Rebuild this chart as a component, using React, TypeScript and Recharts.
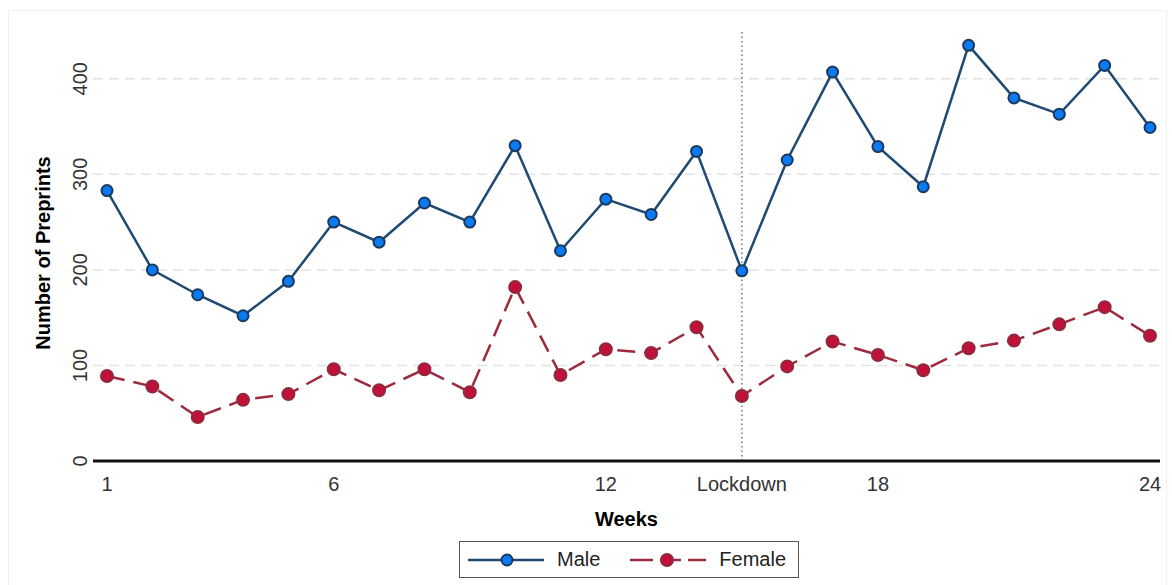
import { LineChart, Line, XAxis, YAxis, CartesianGrid, ReferenceLine } from "recharts";

const weeks = [1, 2, 3, 4, 5, 6, 7, 8, 9, 10, 11, 12, 13, 14, 15, 16, 17, 18, 19, 20, 21, 22, 23, 24];
const maleCounts = [283, 200, 174, 152, 188, 250, 229, 270, 250, 330, 220, 274, 258, 324, 199, 315, 407, 329, 287, 435, 380, 363, 414, 349];
const femaleCounts = [89, 78, 46, 64, 70, 96, 74, 96, 72, 182, 90, 117, 113, 140, 68, 99, 125, 111, 95, 118, 126, 143, 161, 131];
const xTicks = [1, 6, 12, 15, 18, 24];
const yTicks = [0, 100, 200, 300, 400];
const gridValues = [100, 200, 300, 400];
const lockdownWeek = 15;

const data = weeks.map((week, i) => ({ week, male: maleCounts[i], female: femaleCounts[i] }));

const FONT = "'Liberation Sans', Arial, sans-serif";
const MALE_LINE = "#1f4a72";
const MALE_FILL = "#0b7bf5";
const MALE_EDGE = "#1b3a5c";
const FEMALE_LINE = "#9c2b3d";
const FEMALE_FILL = "#c1103a";
const FEMALE_EDGE = "#8f2a3c";

const YTick = ({ x, y, payload }: any) => (
  <text
    x={x}
    y={y}
    transform={`rotate(-90, ${x}, ${y})`}
    textAnchor="middle"
    fontSize={20}
    fontFamily={FONT}
    fill="#333"
  >
    {payload.value}
  </text>
);

const xLabel = (v: number) => (v === lockdownWeek ? "Lockdown" : String(v));

export default function App() {
  return (
    <div style={{ position: "absolute", left: 0, top: 0, width: 1172, height: 585, background: "#fff", fontFamily: FONT }}>
      {/* faint plot region frame */}
      <div style={{ position: "absolute", left: 8, top: 10, width: 1157, height: 580, border: "1px solid #f0f0f0" }} />
      <LineChart width={1172} height={585} data={data} margin={{ top: 31, right: 12, left: 0, bottom: 54 }}>
        <CartesianGrid
          vertical={false}
          horizontalValues={gridValues}
          stroke="#e2e2e2"
          strokeDasharray="10 6"
          strokeWidth={1.5}
        />
        <XAxis
          dataKey="week"
          type="number"
          domain={[1, 24]}
          ticks={xTicks}
          tickFormatter={xLabel}
          padding={{ left: 14, right: 10 }}
          height={70}
          tickLine={false}
          tickSize={0}
          tickMargin={16}
          axisLine={{ stroke: "#111", strokeWidth: 3 }}
          tick={{ fontSize: 20, fill: "#333", fontFamily: FONT }}
          interval={0}
          label={{ value: "Weeks", position: "insideBottom", offset: 5, fontSize: 20, fontWeight: 700, fill: "#000", fontFamily: FONT }}
        />
        <YAxis
          type="number"
          domain={[0, 450]}
          ticks={yTicks}
          width={93}
          axisLine={false}
          tickLine={false}
          tickSize={0}
          tickMargin={6}
          tick={<YTick />}
          label={{
            content: () => (
              <text
                transform="translate(50,253) rotate(-90)"
                textAnchor="middle"
                fontSize={20}
                fontWeight={700}
                fontFamily={FONT}
                fill="#000"
              >
                Number of Preprints
              </text>
            ),
          }}
        />
        <ReferenceLine x={lockdownWeek} stroke="#777" strokeDasharray="1.5 3" strokeWidth={1.5} />
        <Line
          type="linear"
          dataKey="male"
          name="Male"
          stroke={MALE_LINE}
          strokeWidth={2.5}
          dot={{ r: 5.5, fill: MALE_FILL, stroke: MALE_EDGE, strokeWidth: 2, strokeDasharray: "0" }}
          activeDot={false}
          isAnimationActive={false}
        />
        <Line
          type="linear"
          dataKey="female"
          name="Female"
          stroke={FEMALE_LINE}
          strokeWidth={2.5}
          strokeDasharray="18 9"
          dot={{ r: 6, fill: FEMALE_FILL, stroke: FEMALE_EDGE, strokeWidth: 2, strokeDasharray: "0" }}
          activeDot={false}
          isAnimationActive={false}
        />
      </LineChart>
      {/* legend */}
      <div
        style={{
          position: "absolute",
          left: 459,
          top: 541,
          width: 338,
          height: 35,
          border: "1px solid #555",
          display: "flex",
          alignItems: "center",
          fontSize: 20,
          color: "#222",
        }}
      >
        <svg width={76} height={20} style={{ marginLeft: 8 }}>
          <line x1={0} y1={10} x2={76} y2={10} stroke={MALE_LINE} strokeWidth={2.5} />
          <circle cx={39} cy={10} r={5.5} fill={MALE_FILL} stroke={MALE_EDGE} strokeWidth={2} />
        </svg>
        <span style={{ marginLeft: 13 }}>Male</span>
        <svg width={76} height={20} style={{ marginLeft: 30 }}>
          <line x1={0} y1={10} x2={76} y2={10} stroke={FEMALE_LINE} strokeWidth={2.5} strokeDasharray="23 7 21 7 18" />
          <circle cx={37} cy={10} r={6} fill={FEMALE_FILL} stroke={FEMALE_EDGE} strokeWidth={2} />
        </svg>
        <span style={{ marginLeft: 13 }}>Female</span>
      </div>
    </div>
  );
}
